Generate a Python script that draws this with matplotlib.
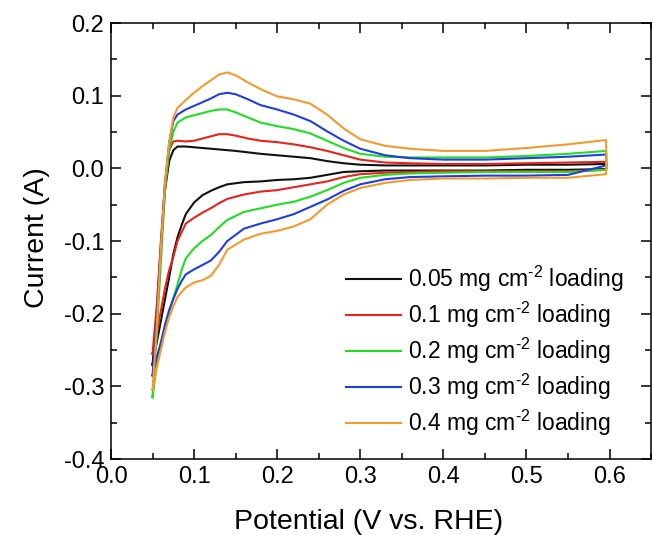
import matplotlib
matplotlib.use('Agg')
import matplotlib.pyplot as plt
from matplotlib.ticker import MultipleLocator

plt.rcParams['font.family'] = ['Liberation Sans', 'DejaVu Sans']
plt.rcParams['mathtext.fontset'] = 'custom'
plt.rcParams['mathtext.rm'] = 'Liberation Sans'
plt.rcParams['mathtext.it'] = 'Liberation Sans'
plt.rcParams['axes.unicode_minus'] = False

# potential grids (V vs. RHE) for the anodic (forward) and cathodic (reverse) sweeps
v_fwd = [0.050, 0.055, 0.060, 0.065, 0.070, 0.075, 0.080, 0.090, 0.100, 0.110,
         0.120, 0.130, 0.140, 0.150, 0.165, 0.180, 0.200, 0.220, 0.240, 0.260,
         0.280, 0.300, 0.330, 0.360, 0.400, 0.450, 0.500, 0.550, 0.596]
v_rev = [0.596, 0.550, 0.500, 0.450, 0.400, 0.360, 0.330, 0.300, 0.280, 0.260,
         0.240, 0.220, 0.200, 0.180, 0.160, 0.140, 0.130, 0.120, 0.110, 0.100,
         0.090, 0.085, 0.080, 0.075, 0.070, 0.065, 0.060, 0.055, 0.050]

labels = ['0.05', '0.1', '0.2', '0.3', '0.4']
colors = ['#111111', '#e8231c', '#22dd22', '#1f3ee0', '#f39a2e']

# current (A), forward sweep
i_fwd_005 = [-0.270, -0.200, -0.110, -0.030, 0.010, 0.025, 0.030, 0.030, 0.029, 0.028,
             0.027, 0.026, 0.025, 0.024, 0.022, 0.020, 0.018, 0.016, 0.014, 0.010,
             0.007, 0.005, 0.004, 0.004, 0.004, 0.004, 0.005, 0.005, 0.006]
i_fwd_01 = [-0.255, -0.190, -0.100, -0.020, 0.025, 0.037, 0.038, 0.037, 0.038, 0.041,
            0.044, 0.047, 0.047, 0.045, 0.041, 0.038, 0.036, 0.033, 0.029, 0.024,
            0.018, 0.012, 0.008, 0.007, 0.006, 0.006, 0.007, 0.008, 0.009]
i_fwd_02 = [-0.315, -0.230, -0.130, -0.030, 0.025, 0.050, 0.063, 0.070, 0.073, 0.076,
            0.079, 0.081, 0.081, 0.077, 0.070, 0.063, 0.058, 0.054, 0.048, 0.038,
            0.028, 0.020, 0.016, 0.015, 0.015, 0.015, 0.017, 0.020, 0.024]
i_fwd_03 = [-0.285, -0.210, -0.110, -0.020, 0.035, 0.065, 0.074, 0.081, 0.086, 0.091,
            0.096, 0.102, 0.104, 0.102, 0.095, 0.087, 0.081, 0.074, 0.065, 0.051,
            0.038, 0.027, 0.018, 0.014, 0.012, 0.012, 0.014, 0.016, 0.019]
i_fwd_04 = [-0.305, -0.220, -0.110, -0.020, 0.035, 0.070, 0.083, 0.094, 0.104, 0.113,
            0.121, 0.129, 0.132, 0.128, 0.118, 0.109, 0.099, 0.095, 0.089, 0.074,
            0.055, 0.040, 0.031, 0.027, 0.024, 0.024, 0.028, 0.033, 0.039]

# current (A), reverse sweep
i_rev_005 = [-0.001, -0.002, -0.002, -0.003, -0.003, -0.003, -0.003, -0.004, -0.005, -0.009,
             -0.013, -0.015, -0.016, -0.018, -0.019, -0.022, -0.026, -0.031, -0.037, -0.047,
             -0.063, -0.078, -0.095, -0.118, -0.150, -0.180, -0.210, -0.240, -0.270]
i_rev_01 = [-0.002, -0.004, -0.004, -0.004, -0.004, -0.005, -0.006, -0.008, -0.012, -0.018,
            -0.022, -0.026, -0.030, -0.032, -0.036, -0.042, -0.048, -0.055, -0.061, -0.068,
            -0.076, -0.088, -0.100, -0.122, -0.140, -0.165, -0.196, -0.228, -0.255]
i_rev_02 = [-0.002, -0.005, -0.005, -0.005, -0.006, -0.007, -0.009, -0.013, -0.020, -0.030,
            -0.039, -0.046, -0.050, -0.055, -0.060, -0.071, -0.081, -0.092, -0.100, -0.110,
            -0.124, -0.140, -0.160, -0.178, -0.198, -0.220, -0.240, -0.270, -0.315]
i_rev_03 = [0.004, -0.009, -0.010, -0.010, -0.011, -0.012, -0.015, -0.022, -0.031, -0.043,
            -0.053, -0.063, -0.070, -0.076, -0.083, -0.100, -0.115, -0.127, -0.133, -0.139,
            -0.146, -0.155, -0.166, -0.180, -0.195, -0.215, -0.240, -0.260, -0.285]
i_rev_04 = [-0.008, -0.013, -0.013, -0.014, -0.014, -0.016, -0.020, -0.027, -0.036, -0.050,
            -0.070, -0.080, -0.086, -0.090, -0.098, -0.112, -0.133, -0.148, -0.154, -0.157,
            -0.164, -0.170, -0.177, -0.190, -0.205, -0.225, -0.250, -0.275, -0.305]

fwd = [i_fwd_005, i_fwd_01, i_fwd_02, i_fwd_03, i_fwd_04]
rev = [i_rev_005, i_rev_01, i_rev_02, i_rev_03, i_rev_04]

fig = plt.figure(figsize=(6.53, 5.35), dpi=100)
ax = fig.add_axes([0.170, 0.142, 0.827, 0.815])

for lab, col, f, r in zip(labels, colors, fwd, rev):
    ax.plot(v_fwd + v_rev, f + r, color=col, lw=1.5,
            label=lab + r' mg cm$^{\text{-2}}$ loading')

ax.set_xlim(0.0, 0.65)
ax.set_ylim(-0.4, 0.2)
ax.xaxis.set_major_locator(MultipleLocator(0.1))
ax.xaxis.set_minor_locator(MultipleLocator(0.05))
ax.yaxis.set_major_locator(MultipleLocator(0.1))
ax.yaxis.set_minor_locator(MultipleLocator(0.05))
ax.xaxis.set_major_formatter(plt.FormatStrFormatter('%.1f'))
ax.yaxis.set_major_formatter(plt.FormatStrFormatter('%.1f'))
ax.tick_params(which='both', direction='in', top=True, right=True, width=1.1,
               labelsize=17)
ax.tick_params(which='major', length=7, pad=5)
ax.tick_params(which='minor', length=4)
for s in ax.spines.values():
    s.set_linewidth(1.1)

ax.set_xlabel('Potential (V vs. RHE)', fontsize=20.5, labelpad=15)
ax.set_ylabel('Current (A)', fontsize=20.5, labelpad=10)
ax.xaxis.label.set_x(0.476)
ax.yaxis.label.set_y(0.507)

ax.legend(loc='lower right', bbox_to_anchor=(0.965, 0.027), frameon=False,
          fontsize=16.5, handlelength=2.4, handletextpad=0.3, labelspacing=0.25,
          borderaxespad=0)

fig.savefig('out.png', dpi=100)
